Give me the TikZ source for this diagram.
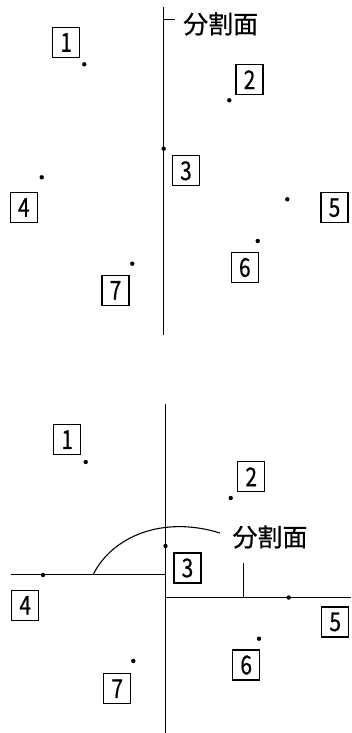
\documentclass[tikz,border=0pt]{standalone}
\usepackage{fontspec}
\newfontfamily\cjk[FakeBold=0.6]{Noto Sans CJK JP}
\newfontfamily\dig[FakeBold=0.6,FakeStretch=0.8]{Noto Sans CJK JP}
\begin{document}
\begin{tikzpicture}[x=1pt,y=-1pt,
  numbox/.style={draw,line width=1.2pt,minimum width=27pt,minimum height=30pt,inner sep=0pt,font=\dig\fontsize{26}{26}\selectfont},
  pt/.style={circle,fill,minimum size=4.4pt,inner sep=0pt},
  lbl/.style={inner sep=0pt,font=\cjk\fontsize{25}{25}\selectfont},
  ln/.style={line width=1.1pt}]
\useasboundingbox (0,0) rectangle (351,733);
% ---------- top panel ----------
\coordinate (va) at (163.7,7);
\coordinate (vb) at (163.7,335);
\draw[ln] (va) -- (vb);
\coordinate (tk1) at (163.7,19.3);
\coordinate (tk2) at (175,19.3);
\draw[ln] (tk1) -- (tk2);
\node[lbl,anchor=west] (lab1) at (183,24) {分割面};
\node[numbox] (a1) at (66.2,42.5) {1};
\node[numbox] (a2) at (249.5,79.7) {2};
\node[numbox] (a3) at (186,170.8) {3};
\node[numbox] (a4) at (23.8,207.5) {4};
\node[numbox] (a5) at (334.5,207.7) {5};
\node[numbox] (a6) at (244.8,267.5) {6};
\node[numbox] (a7) at (115.5,290.3) {7};
\node[pt] (p1) at (84.3,64.3) {};
\node[pt] (p2) at (229.3,100.3) {};
\node[pt] (p3) at (163.7,148.7) {};
\node[pt] (p4) at (41.7,177.3) {};
\node[pt] (p5) at (287.3,199.3) {};
\node[pt] (p6) at (257.7,241) {};
\node[pt] (p7) at (132.3,263.7) {};
% ---------- bottom panel ----------
\coordinate (wa) at (165.7,404);
\coordinate (wb) at (165.7,733);
\draw[ln] (wa) -- (wb);
\coordinate (hl1) at (11,574.3);
\coordinate (hl2) at (165.7,574.3);
\draw[ln] (hl1) -- (hl2);
\coordinate (hr1) at (165.7,597.7);
\coordinate (hr2) at (351,597.7);
\draw[ln] (hr1) -- (hr2);
\coordinate (tt1) at (243.3,563.3);
\coordinate (tt2) at (243.3,597.7);
\draw[ln] (tt1) -- (tt2);
\coordinate (ar1) at (93.3,574.3);
\coordinate (ar2) at (220,533);
\draw[ln] (ar1) .. controls (112,537) and (162,515) .. (ar2);
\node[lbl] (lab2) at (270,537) {分割面};
\node[numbox] (b1) at (67.2,439.7) {1};
\node[numbox] (b2) at (251.2,476.8) {2};
\node[numbox] (b3) at (187.5,568) {3};
\node[numbox] (b4) at (25.2,605.3) {4};
\node[numbox] (b5) at (335.2,622) {5};
\node[numbox] (b6) at (246.2,665) {6};
\node[numbox] (b7) at (117.2,688.7) {7};
\node[pt] (q1) at (85.7,462) {};
\node[pt] (q2) at (230.7,498) {};
\node[pt] (q3) at (165.5,546) {};
\node[pt] (q4) at (43,575) {};
\node[pt] (q5) at (288.7,597.5) {};
\node[pt] (q6) at (259,638.7) {};
\node[pt] (q7) at (133.3,661) {};
\end{tikzpicture}
\end{document}
